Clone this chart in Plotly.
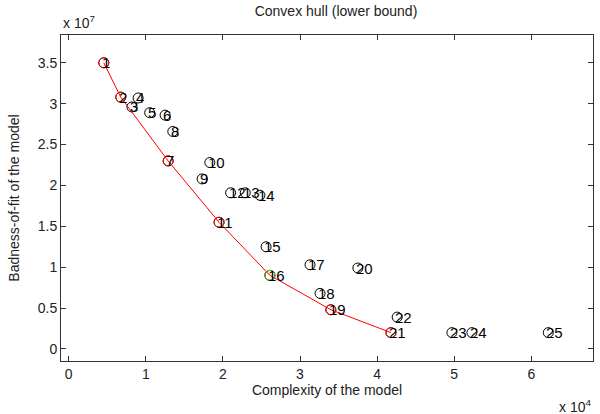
import plotly.graph_objects as go

labels = [str(i) for i in range(1, 26)]
complexity = [4550, 6750, 8200, 9000, 10500, 12500, 12900, 13500, 17300, 18300,
              19500, 21000, 22900, 24800, 25600, 26100, 31300, 32600, 34000, 37500,
              41800, 42600, 49700, 52300, 62200]
badness = [3.50e7, 3.08e7, 2.96e7, 3.07e7, 2.89e7, 2.86e7, 2.30e7, 2.66e7, 2.08e7, 2.28e7,
           1.55e7, 1.91e7, 1.91e7, 1.88e7, 1.25e7, 0.90e7, 1.03e7, 0.68e7, 0.48e7, 0.99e7,
           0.20e7, 0.39e7, 0.20e7, 0.20e7, 0.20e7]
hull_idx = [0, 1, 6, 10, 15, 18, 20]
best_idx = 15

xtick_vals = [0, 10000, 20000, 30000, 40000, 50000, 60000]
xtick_text = ["0", "1", "2", "3", "4", "5", "6"]
ytick_vals = [0, 0.5e7, 1e7, 1.5e7, 2e7, 2.5e7, 3e7, 3.5e7]
ytick_text = ["0", "0.5", "1", "1.5", "2", "2.5", "3", "3.5"]

FONT = "Liberation Sans, Arial, sans-serif"
TXT = "#222222"

fig = go.Figure()
fig.add_trace(go.Scatter(
    x=complexity, y=badness, mode="markers",
    marker=dict(symbol="circle-open", size=10, color="black", line=dict(width=1)),
    hoverinfo="skip", showlegend=False))
hx = [complexity[i] for i in hull_idx]
hy = [badness[i] for i in hull_idx]
fig.add_trace(go.Scatter(
    x=hx, y=hy, mode="lines+markers",
    line=dict(color="red", width=1),
    marker=dict(symbol="circle-open", size=10, color="red", line=dict(width=1)),
    showlegend=False))
fig.add_trace(go.Scatter(
    x=[complexity[best_idx]], y=[badness[best_idx]], mode="markers",
    marker=dict(symbol="circle-open", size=10, color="#22dd22", line=dict(width=1)),
    showlegend=False))

for lab, x, y in zip(labels, complexity, badness):
    fig.add_annotation(x=x, y=y, text=lab, showarrow=False, xanchor="left",
                       yanchor="middle", xshift=-4, yshift=0,
                       font=dict(family=FONT, size=15, color="black"))

axis_common = dict(showline=True, linecolor="#333333", linewidth=1, mirror="ticks",
                   ticks="inside", ticklen=5, tickcolor="#333333", showgrid=False,
                   zeroline=False, tickfont=dict(family=FONT, size=14, color=TXT))

fig.update_layout(
    width=600, height=414,
    margin=dict(l=61, r=7, t=35, b=53),
    paper_bgcolor="white", plot_bgcolor="white",
    xaxis=dict(range=[-1000, 68000], tickvals=xtick_vals, ticktext=xtick_text,
               title=dict(text="Complexity of the model", standoff=1,
                          font=dict(family=FONT, size=14, color=TXT)),
               **axis_common),
    yaxis=dict(range=[-0.147e7, 3.84e7], tickvals=ytick_vals, ticktext=ytick_text,
               title=dict(text="Badness-of-fit of the model", standoff=14,
                          font=dict(family=FONT, size=14, color=TXT)),
               **axis_common),
    title=dict(text="Convex hull (lower bound)", x=0.56, xanchor="center", y=0.972,
               yanchor="middle", font=dict(family=FONT, size=14, color=TXT)),
)
fig.add_annotation(xref="paper", yref="paper", x=0, y=1, xanchor="left", yanchor="bottom",
                   yshift=2, text="x 10<sup>7</sup>", showarrow=False,
                   font=dict(family=FONT, size=14, color=TXT))
fig.add_annotation(xref="paper", yref="paper", x=1, y=0, xanchor="right", yanchor="top",
                   yshift=-34, xshift=0, text="x 10<sup>4</sup>", showarrow=False,
                   font=dict(family=FONT, size=14, color=TXT))

fig.write_html("out.html")
